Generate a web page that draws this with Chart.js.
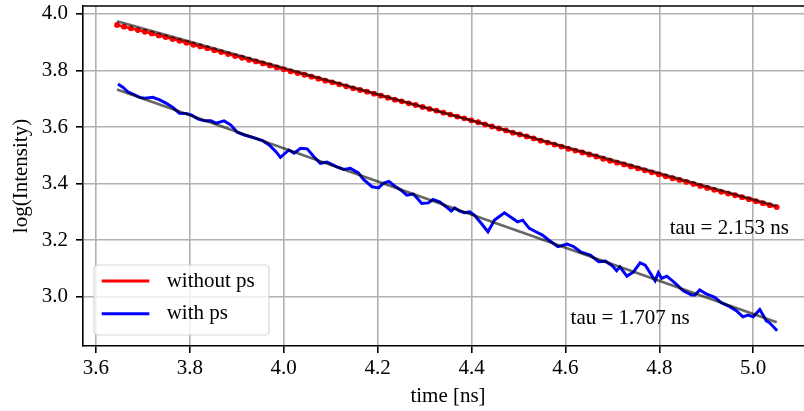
<!DOCTYPE html>
<html>
<head>
<meta charset="utf-8">
<script src="https://cdn.jsdelivr.net/npm/chart.js@4.4.1/dist/chart.umd.min.js"></script>
<style>
  html, body { margin: 0; padding: 0; background: #fff; overflow: hidden; }
  #wrap { width: 804px; height: 411px; overflow: hidden; }
</style>
</head>
<body>
<div id="wrap"><canvas id="myChart" width="830" height="411"></canvas></div>
<script>
// series names (legend)
const seriesNames = ['without ps', 'with ps'];

// without ps: sampled on a regular time grid
const redStart = 3.645;
const redStep = 0.01479;
const redLog = [
  3.961, 3.955, 3.949, 3.943, 3.937, 3.931, 3.924, 3.918, 3.911, 3.905,
  3.898, 3.891, 3.885, 3.879, 3.872, 3.865, 3.858, 3.851, 3.845, 3.838,
  3.832, 3.825, 3.818, 3.811, 3.804, 3.797, 3.791, 3.785, 3.778, 3.771,
  3.764, 3.758, 3.751, 3.744, 3.737, 3.731, 3.725, 3.718, 3.711, 3.704,
  3.697, 3.691, 3.684, 3.678, 3.671, 3.664, 3.658, 3.651, 3.644, 3.637,
  3.631, 3.624, 3.617, 3.609, 3.602, 3.595, 3.588, 3.580, 3.574, 3.567,
  3.560, 3.552, 3.545, 3.538, 3.531, 3.523, 3.517, 3.510, 3.503, 3.496,
  3.488, 3.481, 3.474, 3.468, 3.461, 3.454, 3.447, 3.440, 3.433, 3.426,
  3.419, 3.413, 3.406, 3.399, 3.392, 3.385, 3.378, 3.371, 3.365, 3.359,
  3.352, 3.345, 3.338, 3.331, 3.324, 3.317
];

// with ps
const blueTime = [
  3.647, 3.658, 3.669, 3.680, 3.693, 3.704, 3.721, 3.736, 3.750, 3.764,
  3.778, 3.792, 3.803, 3.817, 3.831, 3.845, 3.856, 3.873, 3.887, 3.901,
  3.916, 3.933, 3.955, 3.969, 3.983, 3.993, 4.011, 4.022, 4.036, 4.050,
  4.064, 4.078, 4.092, 4.117, 4.128, 4.142, 4.159, 4.170, 4.188, 4.202,
  4.212, 4.224, 4.237, 4.250, 4.262, 4.276, 4.283, 4.294, 4.308, 4.318,
  4.332, 4.346, 4.357, 4.364, 4.375, 4.385, 4.396, 4.406, 4.421, 4.435,
  4.449, 4.470, 4.484, 4.498, 4.509, 4.523, 4.537, 4.551, 4.565, 4.584,
  4.604, 4.618, 4.632, 4.653, 4.671, 4.685, 4.699, 4.709, 4.716, 4.731,
  4.745, 4.759, 4.770, 4.791, 4.798, 4.805, 4.816, 4.833, 4.851, 4.869,
  4.876, 4.886, 4.900, 4.918, 4.932, 4.950, 4.964, 4.978, 4.989, 5.000,
  5.014, 5.028, 5.035, 5.051
];
const blueLog = [
  3.752, 3.740, 3.723, 3.716, 3.705, 3.702, 3.705, 3.696, 3.684, 3.669,
  3.649, 3.648, 3.643, 3.629, 3.622, 3.622, 3.614, 3.622, 3.608, 3.582,
  3.572, 3.564, 3.552, 3.537, 3.514, 3.493, 3.519, 3.508, 3.525, 3.523,
  3.496, 3.472, 3.476, 3.457, 3.450, 3.454, 3.438, 3.415, 3.389, 3.385,
  3.401, 3.408, 3.391, 3.377, 3.359, 3.363, 3.351, 3.330, 3.332, 3.344,
  3.336, 3.318, 3.303, 3.314, 3.303, 3.297, 3.300, 3.289, 3.259, 3.230,
  3.271, 3.297, 3.281, 3.265, 3.271, 3.242, 3.230, 3.218, 3.200, 3.177,
  3.186, 3.177, 3.159, 3.147, 3.124, 3.126, 3.111, 3.092, 3.106, 3.073,
  3.088, 3.120, 3.112, 3.057, 3.085, 3.065, 3.073, 3.049, 3.021, 3.006,
  3.006, 3.024, 3.010, 2.998, 2.979, 2.965, 2.951, 2.929, 2.935, 2.929,
  2.955, 2.915, 2.908, 2.880
];

// fitted lines (end points)
const fitTime = [3.645, 5.05];
const fitRedLog = [3.974, 3.321];
const fitBlueLog = [3.733, 2.910];

// tau annotations
const tauLabels = ['tau = 2.153 ns', 'tau = 1.707 ns'];
const tauTime = [4.822, 4.611];
const tauLog = [3.243, 2.925];

// axes (right end lies past the visible window, as in the original)
const xTicks = [3.6, 3.8, 4.0, 4.2, 4.4, 4.6, 4.8, 5.0];
const yTicks = [3.0, 3.2, 3.4, 3.6, 3.8, 4.0];
const xRange = [3.5725, 5.155];
const yRange = [2.826, 4.028];

const FONT = '"Liberation Serif", "Times New Roman", serif';

const redPoints = redLog.map((v, i) => ({ x: redStart + i * redStep, y: v }));
const bluePoints = blueTime.map((t, i) => ({ x: t, y: blueLog[i] }));
const fitRed = fitTime.map((t, i) => ({ x: t, y: fitRedLog[i] }));
const fitBlue = fitTime.map((t, i) => ({ x: t, y: fitBlueLog[i] }));

// top spine, tau text, legend box, x title
const decor = {
  id: 'decor',
  afterDatasetsDraw(chart) {
    const { ctx, chartArea, scales } = chart;
    ctx.save();
    ctx.strokeStyle = '#000';
    ctx.lineWidth = 1.6;
    ctx.beginPath();
    ctx.moveTo(chartArea.left, chartArea.top);
    ctx.lineTo(chartArea.right, chartArea.top);
    ctx.stroke();

    ctx.font = '21px ' + FONT;
    ctx.fillStyle = '#000';
    ctx.textAlign = 'left';
    ctx.textBaseline = 'middle';
    for (let i = 0; i < tauLabels.length; i++) {
      ctx.fillText(tauLabels[i], scales.x.getPixelForValue(tauTime[i]), scales.y.getPixelForValue(tauLog[i]));
    }

    // legend
    const bx = chartArea.left + 11, by = chartArea.bottom - 81, bw = 175, bh = 70;
    ctx.beginPath();
    ctx.roundRect(bx, by, bw, bh, 4);
    ctx.fillStyle = 'rgba(255,255,255,0.8)';
    ctx.fill();
    ctx.strokeStyle = 'rgba(204,204,204,0.8)';
    ctx.lineWidth = 1.2;
    ctx.stroke();
    const colors = ['#ff0000', '#0000ff'];
    const rows = [by + 16, by + 48.7];
    for (let i = 0; i < seriesNames.length; i++) {
      ctx.strokeStyle = colors[i];
      ctx.lineWidth = 3;
      ctx.beginPath();
      ctx.moveTo(bx + 7.7, rows[i]);
      ctx.lineTo(bx + 55.3, rows[i]);
      ctx.stroke();
      ctx.fillStyle = '#000';
      ctx.fillText(seriesNames[i], bx + 72.7, rows[i]);
    }

    // x axis title
    ctx.textAlign = 'center';
    ctx.fillText('time [ns]', chartArea.left + 365, chartArea.bottom + 50);
    ctx.restore();
  }
};

const gridOpts = { color: '#b0b0b0', lineWidth: 1.6, tickColor: '#000', tickLength: 7, tickWidth: 1.6 };

const ctx = document.getElementById('myChart');
new Chart(ctx, {
  type: 'line',
  data: {
    datasets: [
      { label: 'fit ' + seriesNames[0], data: fitRed, borderColor: 'rgba(0,0,0,0.6)', borderWidth: 2.6, pointRadius: 0, order: 0 },
      { label: 'fit ' + seriesNames[1], data: fitBlue, borderColor: 'rgba(0,0,0,0.6)', borderWidth: 2.6, pointRadius: 0, order: 0 },
      { label: seriesNames[0], data: redPoints, borderColor: '#ff0000', backgroundColor: '#ff0000', borderWidth: 2.6, pointRadius: 2.9, pointBorderWidth: 0, order: 1 },
      { label: seriesNames[1], data: bluePoints, borderColor: '#0000ff', borderWidth: 3, pointRadius: 0, order: 1 }
    ]
  },
  options: {
    responsive: false,
    animation: false,
    layout: { padding: { top: 6, right: 0, left: 0, bottom: 0 } },
    elements: { line: { tension: 0 } },
    plugins: { legend: { display: false }, tooltip: { enabled: false } },
    scales: {
      x: {
        type: 'linear',
        min: xRange[0],
        max: xRange[1],
        afterBuildTicks: s => { s.ticks = xTicks.map(v => ({ value: v })); },
        afterFit: s => { s.height = 65; s.paddingLeft = 0; s.paddingRight = 0; },
        grid: gridOpts,
        border: { color: '#000', width: 1.6 },
        ticks: { color: '#000', font: { family: FONT, size: 21 }, padding: 3, maxRotation: 0, callback: v => v.toFixed(1) },
        title: { display: false }
      },
      y: {
        type: 'linear',
        min: yRange[0],
        max: yRange[1],
        afterBuildTicks: s => { s.ticks = yTicks.map(v => ({ value: v })); },
        afterFit: s => { s.width = 83; s.paddingTop = 0; s.paddingBottom = 0; },
        grid: gridOpts,
        border: { color: '#000', width: 1.6 },
        ticks: { color: '#000', font: { family: FONT, size: 21 }, padding: 8, callback: v => v.toFixed(1) },
        title: { display: true, text: 'log(Intensity)', color: '#000', font: { family: FONT, size: 21 }, padding: { top: 9, bottom: 0 } }
      }
    }
  },
  plugins: [decor]
});
</script>
</body>
</html>
